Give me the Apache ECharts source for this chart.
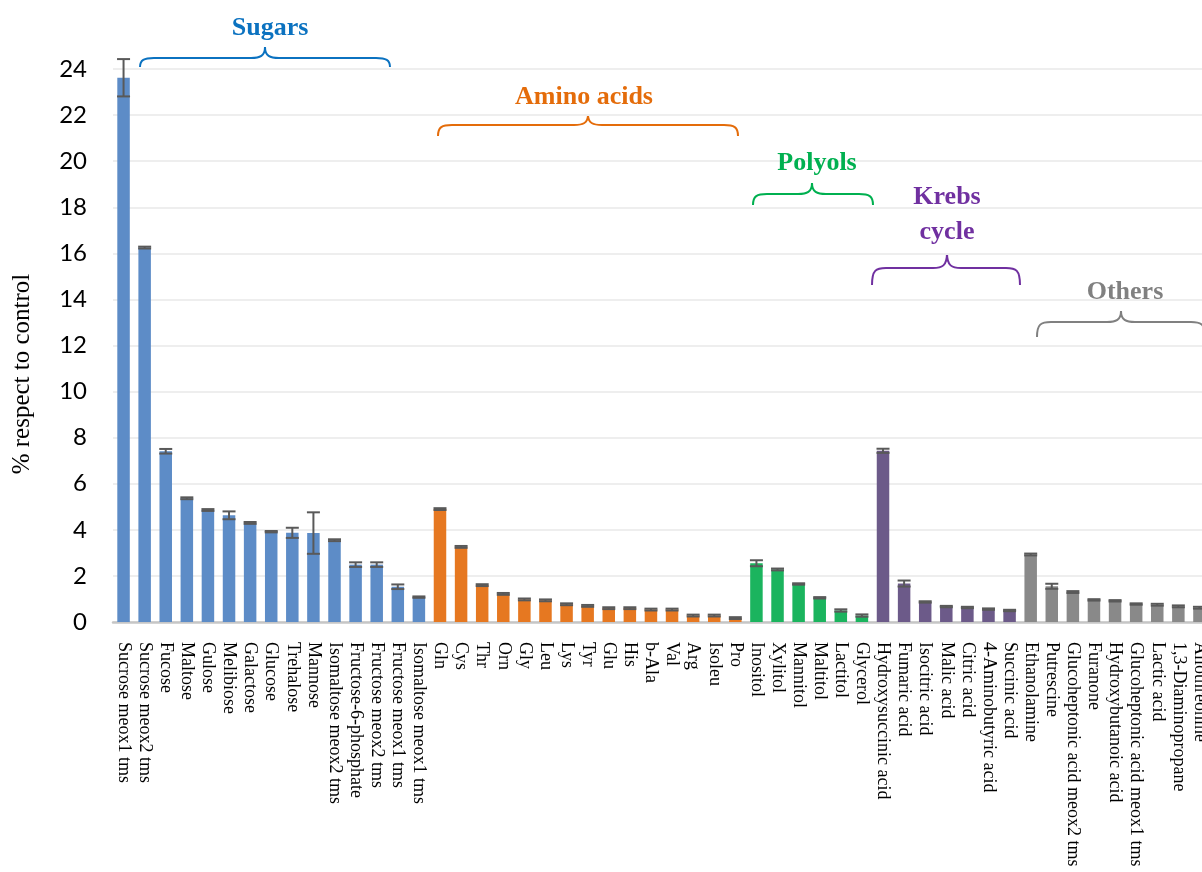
<!DOCTYPE html>
<html>
<head>
<meta charset="utf-8">
<script src="https://cdn.jsdelivr.net/npm/echarts@6/dist/echarts.min.js"></script>
<style>html,body{margin:0;padding:0;background:#fff;}#c{width:1202px;height:872px;}</style>
</head>
<body>
<div id="c"></div>
<script>
// ---- data ----
var sugarNames = ["Sucrose meox1 tms","Sucrose meox2 tms","Fucose","Maltose","Gulose","Melibiose","Galactose","Glucose","Trehalose","Mannose","Isomaltose meox2 tms","Fructose-6-phosphate","Fructose meox2 tms","Fructose meox1 tms","Isomaltose meox1 tms"];
var sugarValues = [23.62,16.25,7.41,5.37,4.86,4.63,4.3,3.92,3.87,3.86,3.55,2.49,2.49,1.53,1.08];
var sugarErrors = [0.81,0.04,0.1,0.04,0.04,0.17,0.04,0.03,0.22,0.9,0.04,0.1,0.1,0.1,0.03];

var aminoNames = ["Gln","Cys","Thr","Orn","Gly","Leu","Lys","Tyr","Glu","His","b-Ala","Val","Arg","Isoleu","Pro"];
var aminoValues = [4.9,3.26,1.6,1.22,0.98,0.94,0.77,0.7,0.6,0.6,0.54,0.54,0.28,0.28,0.17];
var aminoErrors = [0.04,0.04,0.04,0.04,0.04,0.04,0.04,0.04,0.04,0.04,0.04,0.04,0.04,0.04,0.04];

var polyolNames = ["Inositol","Xylitol","Mannitol","Maltitol","Lactitol","Glycerol"];
var polyolValues = [2.55,2.28,1.65,1.05,0.5,0.28];
var polyolErrors = [0.13,0.04,0.03,0.03,0.05,0.05];

var krebsNames = ["Hydroxysuccinic acid","Fumaric acid","Isocitric acid","Malic acid","Citric acid","4-Aminobutyric acid","Succinic acid"];
var krebsValues = [7.43,1.67,0.87,0.67,0.63,0.56,0.5];
var krebsErrors = [0.09,0.13,0.03,0.03,0.03,0.03,0.03];

var otherNames = ["Ethanolamine","Putrescine","Glucoheptonic acid meox2 tms","Furanone","Hydroxybutanoic acid","Glucoheptonic acid meox1 tms","Lactic acid","1,3-Diaminopropane","Allothreonine"];
var otherValues = [2.93,1.55,1.3,0.96,0.92,0.78,0.75,0.68,0.62];
var otherErrors = [0.04,0.11,0.04,0.03,0.03,0.03,0.04,0.04,0.04];

var yTicks = [0,2,4,6,8,10,12,14,16,18,20,22,24];
var yAxisTitle = "% respect to control";

// ---- build ----
var groups = [
  {label:"Sugars", names:sugarNames, values:sugarValues, errors:sugarErrors, bar:"#5d8cc7", text:"#0b72c0"},
  {label:"Amino acids", names:aminoNames, values:aminoValues, errors:aminoErrors, bar:"#e67821", text:"#e46c0a"},
  {label:"Polyols", names:polyolNames, values:polyolValues, errors:polyolErrors, bar:"#1bb45e", text:"#00b050"},
  {label:"Krebs cycle", names:krebsNames, values:krebsValues, errors:krebsErrors, bar:"#6c5a89", text:"#7030a0"},
  {label:"Others", names:otherNames, values:otherValues, errors:otherErrors, bar:"#898989", text:"#808080"}
];
var categories = [];
groups.forEach(function(g){ categories = categories.concat(g.names); });
var N = categories.length;

var series = [];
var errData = [];
var offset = 0;
groups.forEach(function(g){
  var arr = [];
  for (var k = 0; k < N; k++) arr.push('-');
  g.values.forEach(function(v,i){ arr[offset+i] = v; errData.push([offset+i, v-g.errors[i], v+g.errors[i]]); });
  series.push({
    name:g.label, type:'bar', data:arr, barWidth:12.5, barGap:'-100%',
    itemStyle:{color:g.bar}, silent:true
  });
  offset += g.names.length;
});
series.push({
  type:'custom', data:errData, encode:{x:0,y:[1,2]}, z:5, silent:true,
  renderItem:function(params, api){
    var x = api.value(0);
    var lo = api.coord([x, api.value(1)]);
    var hi = api.coord([x, api.value(2)]);
    var hw = 6.5;
    var st = {stroke:'#595959', lineWidth:2};
    return {type:'group', children:[
      {type:'line', shape:{x1:lo[0],y1:lo[1],x2:hi[0],y2:hi[1]}, style:st},
      {type:'line', shape:{x1:lo[0]-hw,y1:lo[1],x2:lo[0]+hw,y2:lo[1]}, style:st},
      {type:'line', shape:{x1:hi[0]-hw,y1:hi[1],x2:hi[0]+hw,y2:hi[1]}, style:st}
    ]};
  }
});

function brace(x1, x2, xm, yb, yl, yt, color){
  var r = 14;
  var st = {fill:null, stroke:color, lineWidth:2};
  function bz(a,b,c,d,e,f,g,h){ return {type:'bezierCurve', shape:{x1:a,y1:b,cpx1:c,cpy1:d,cpx2:e,cpy2:f,x2:g,y2:h}, style:st, silent:true}; }
  function ln(a,b,c,d){ return {type:'line', shape:{x1:a,y1:b,x2:c,y2:d}, style:st, silent:true}; }
  return {type:'group', z:10, silent:true, children:[
    bz(x1,yb, x1,yl+2, x1+4,yl, x1+r,yl),
    ln(x1+r,yl, xm-r,yl),
    bz(xm-r,yl, xm-5,yl, xm,yl-2, xm,yt),
    bz(xm,yt, xm,yl-2, xm+5,yl, xm+r,yl),
    ln(xm+r,yl, x2-r,yl),
    bz(x2-r,yl, x2-4,yl, x2,yl+2, x2,yb)
  ]};
}
function title(txt, x, y, color){
  return {type:'text', x:x, y:y, z:10, silent:true,
    style:{text:txt, fill:color, font:'bold 26px "Liberation Serif"', align:'center', verticalAlign:'middle'}};
}

var chart = echarts.init(document.getElementById('c'), null, {renderer:'canvas'});
chart.setOption({
  animation:false,
  backgroundColor:'#ffffff',
  grid:{left:113, top:69, width:1097, height:553, containLabel:false, outerBoundsMode:'none'},
  xAxis:{
    type:'category', data:categories,
    axisLine:{lineStyle:{color:'#c6c6c6', width:2.5}},
    axisTick:{show:false},
    axisLabel:{interval:0, rotate:-90, margin:20, color:'#000',
      fontFamily:'"Liberation Serif"', fontSize:18}
  },
  yAxis:{
    type:'value', min:0, max:24, interval:2,
    axisLine:{show:false}, axisTick:{show:false},
    splitLine:{lineStyle:{color:'#eeeeee', width:2}},
    axisLabel:{color:'#000', fontFamily:'Lato', fontSize:24, margin:26,
      formatter:function(v){ return yTicks.indexOf(v) >= 0 ? String(v) : ''; }}
  },
  series:series,
  graphic:[
    {type:'text', x:22, y:374, rotation:Math.PI/2, silent:true,
      style:{text:yAxisTitle, fill:'#000', font:'25px "Liberation Serif"', align:'center', verticalAlign:'middle'}},
    brace(140, 390, 265, 67, 58, 47, '#0b72c0'),
    title('Sugars', 270, 28, '#0b72c0'),
    brace(438, 738, 588, 136, 125, 115, '#e46c0a'),
    title('Amino acids', 584, 97, '#e46c0a'),
    brace(753, 873, 812, 205, 194, 183, '#00b050'),
    title('Polyols', 817, 163, '#00b050'),
    brace(872, 1020, 947, 285, 268, 253, '#7030a0'),
    title('Krebs', 947, 197, '#7030a0'),
    title('cycle', 947, 232, '#7030a0'),
    brace(1037, 1205, 1121, 337, 322, 311, '#808080'),
    title('Others', 1125, 292, '#808080')
  ]
});
</script>
</body>
</html>
